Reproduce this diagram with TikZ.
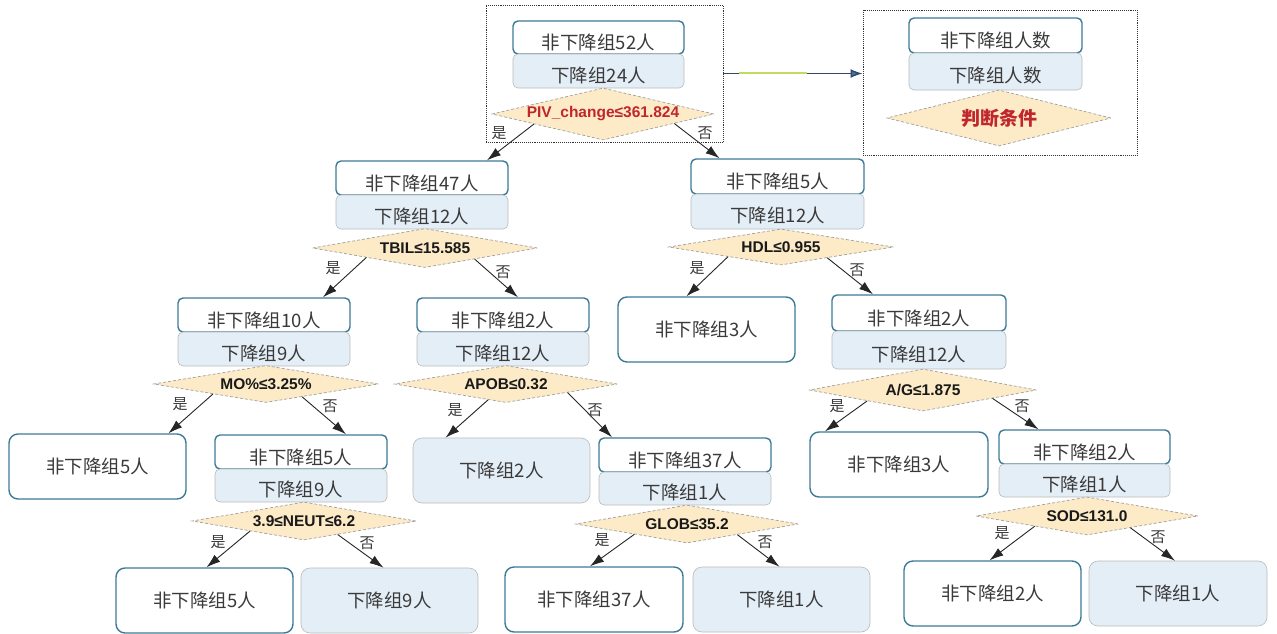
\documentclass[tikz,border=0pt]{standalone}
\usepackage{fontspec}
\setmainfont{Noto Sans CJK SC}
\newfontfamily\lat{Liberation Sans}
\usetikzlibrary{shapes.geometric,arrows.meta,calc}
\definecolor{bordc}{HTML}{3D7A96}
\definecolor{bluef}{HTML}{E4EEF7}
\definecolor{diaf}{HTML}{FDEBC8}
\definecolor{txt}{HTML}{3A3A3A}
\definecolor{redt}{HTML}{C0262C}
\definecolor{arrnavy}{HTML}{2E4A66}
\definecolor{arrgreen}{HTML}{C2DA5E}
\definecolor{arrtip}{HTML}{4A6DB0}
\begin{document}
\begin{tikzpicture}[x=1pt,y=-1pt,
 every node/.style={font=\fontsize{18.5}{20}\selectfont, text=txt},
 wtop/.style={draw=bordc, line width=1.4pt, rounded corners=5pt, fill=white, minimum width=172pt, minimum height=34pt, inner sep=0pt, text height=26pt, text depth=2pt},
 bblue/.style={draw=gray!55, line width=0.6pt, rounded corners=5pt, fill=bluef, minimum width=172pt, minimum height=34pt, inner sep=0pt, text height=24pt, text depth=2pt},
 leafw/.style={draw=bordc, line width=1.4pt, rounded corners=9pt, fill=white, minimum width=177pt, minimum height=65pt, inner sep=0pt},
 leafb/.style={draw=gray!55, line width=0.6pt, rounded corners=9pt, fill=bluef, minimum width=177pt, minimum height=65pt, inner sep=0pt},
 cond/.style={diamond, draw=gray!75, dash pattern=on 3pt off 2pt, line width=0.7pt, fill=diaf, aspect=4.5, inner sep=0pt, font=\lat\bfseries\fontsize{15.5}{17}\selectfont, text=black!90},
 yn/.style={font=\fontsize{15}{17}\selectfont, text=txt, inner sep=0pt},
 arr/.style={draw=black!85, line width=0.9pt, -{Latex[length=14pt,width=9pt]}},
 dotbox/.style={draw=black!80, densely dotted, line width=0.9pt, inner sep=0pt}
]
\useasboundingbox (0,0) rectangle (1277,634);

% dotted frames
\node[dotbox, minimum width=237pt, minimum height=137pt] (rootbox) at (604.5,73.5) {};
\node[dotbox, minimum width=274pt, minimum height=145pt] (legbox) at (1000,82.5) {};

% legend arrow
\draw[draw=arrnavy, line width=1.4pt, -{Latex[length=12pt,width=9pt,fill=arrtip]}] (rootbox.east) -- (rootbox.east -| legbox.west);
\draw[draw=arrgreen, line width=2pt] ($(rootbox.east)+(16,0)$) -- ($(rootbox.east)+(84,0)$);

% legend
\node[wtop, minimum width=173pt, minimum height=35pt] (legw) at (995.5,35.5) {非下降组人数};
\node[bblue, minimum width=173pt, minimum height=37pt] (legb) at (995.5,71.5) {下降组人数};
\node[cond, minimum width=224pt, minimum height=56pt, font=\bfseries\fontsize{19}{21}\selectfont, text=redt] (legd) at (999,118) {判断条件};

% root
\node[wtop, minimum width=171pt, minimum height=33pt] (rw) at (598.5,37.5) {非下降组52人};
\node[bblue, minimum width=171pt, minimum height=34pt] (rb) at (598.5,71) {下降组24人};
\node[cond, minimum width=222pt, minimum height=52pt, text=redt] (dR) at (603,114) {PIV\_change≤361.824};

% level 1 left
\node[wtop] (aw) at (422,178) {非下降组47人};
\node[bblue] (ab) at (422,212) {下降组12人};
\node[cond, minimum width=225pt, minimum height=39pt] (dA) at (425,248) {TBIL≤15.585};

% level 1 right
\node[wtop, minimum width=173pt, minimum height=35pt] (bw) at (777.5,176.5) {非下降组5人};
\node[bblue, minimum width=173pt, minimum height=35pt] (bb) at (777.5,211.5) {下降组12人};
\node[cond, minimum width=225pt, minimum height=36pt] (dB) at (781,247) {HDL≤0.955};

% level 2
\node[wtop] (cw) at (264,315) {非下降组10人};
\node[bblue] (cb) at (264,349) {下降组9人};
\node[cond, minimum width=225pt, minimum height=37pt] (dC) at (266,384) {MO\%≤3.25\%};

\node[wtop] (ew) at (503,315) {非下降组2人};
\node[bblue] (eb) at (503,349) {下降组12人};
\node[cond, minimum width=223pt, minimum height=37pt] (dE) at (506,384) {APOB≤0.32};

\node[leafw] (lC) at (706.5,329.5) {非下降组3人};

\node[wtop, minimum width=174pt, minimum height=36pt] (gw) at (919,313) {非下降组2人};
\node[bblue, minimum width=174pt, minimum height=38pt] (gb) at (919,350) {下降组12人};
\node[cond, minimum width=227pt, minimum height=42pt] (dG) at (923,390) {A/G≤1.875};

% level 3
\node[leafw] (l5) at (97.5,466.5) {非下降组5人};

\node[wtop] (hw) at (301,452) {非下降组5人};
\node[bblue, minimum height=33pt] (hb) at (301,485.5) {下降组9人};
\node[cond, minimum width=224pt, minimum height=38pt] (dH) at (304,521) {3.9≤NEUT≤6.2};

\node[leafb] (l2) at (501.5,470.5) {下降组2人};

\node[wtop] (fw) at (685,455) {非下降组37人};
\node[bblue, minimum height=33pt] (fb) at (685,488.5) {下降组1人};
\node[cond, minimum width=223pt, minimum height=38pt] (dF) at (687,524) {GLOB≤35.2};

\node[leafw, minimum width=178pt] (l3) at (899,464.5) {非下降组3人};

\node[wtop, minimum width=171pt] (kw) at (1084.5,447) {非下降组2人};
\node[bblue, minimum width=171pt, minimum height=33pt] (kb) at (1084.5,480.5) {下降组1人};
\node[cond, minimum width=222pt, minimum height=38pt] (dK) at (1087,516) {SOD≤131.0};

% level 4
\node[leafw] (m1) at (204.5,600.5) {非下降组5人};
\node[leafb] (m2) at (389.5,600.5) {下降组9人};
\node[leafw, minimum width=178pt] (m3) at (594,599.5) {非下降组37人};
\node[leafb] (m4) at (781.5,599.5) {下降组1人};
\node[leafw] (m5) at (992.5,593.5) {非下降组2人};
\node[leafb, minimum width=178pt] (m6) at (1178,593.5) {下降组1人};

% arrows
\draw[arr] ($(dR.west)!0.38!(dR.south)$) -- ($(aw.north)+(65,0)$);
\draw[arr] ($(dR.east)!0.36!(dR.south)$) -- ($(bw.north)+(-58,0)$);
\draw[arr] ($(dA.west)!0.48!(dA.south)$) -- ($(cw.north)+(59,0)$);
\draw[arr] ($(dA.east)!0.56!(dA.south)$) -- ($(ew.north)+(15,0)$);
\draw[arr] ($(dB.west)!0.53!(dB.south)$) -- ($(lC.north)+(-20,0)$);
\draw[arr] ($(dB.east)!0.59!(dB.south)$) -- ($(gw.north)+(-46,0)$);
\draw[arr] ($(dC.west)!0.53!(dC.south)$) -- ($(l5.north)+(71,0)$);
\draw[arr] ($(dC.east)!0.68!(dC.south)$) -- ($(hw.north)+(45,0)$);
\draw[arr] ($(dE.west)!0.84!(dE.south)$) -- ($(l2.north)+(-56,0)$);
\draw[arr] ($(dE.east)!0.45!(dE.south)$) -- ($(fw.north)+(-73,0)$);
\draw[arr] ($(dG.west)!0.51!(dG.south)$) -- ($(l3.north)+(-74,0)$);
\draw[arr] ($(dG.east)!0.39!(dG.south)$) -- ($(kw.north)+(-46,0)$);
\draw[arr] ($(dH.west)!0.52!(dH.south)$) -- ($(m1.north)+(2,0)$);
\draw[arr] ($(dH.east)!0.70!(dH.south)$) -- ($(m2.north)+(-6,0)$);
\draw[arr] ($(dF.west)!0.53!(dF.south)$) -- ($(m3.north)+(-4,0)$);
\draw[arr] ($(dF.east)!0.55!(dF.south)$) -- ($(m4.north)+(-2,0)$);
\draw[arr] ($(dK.west)!0.53!(dK.south)$) -- ($(m5.north)+(-3,0)$);
\draw[arr] ($(dK.east)!0.61!(dK.south)$) -- ($(m6.north)+(-3,0)$);

% yes/no labels
\node[yn] (yR) at (499,133) {是};
\node[yn] (nR) at (705,133) {否};
\node[yn] (yA) at (333,268) {是};
\node[yn] (nA) at (503,272) {否};
\node[yn] (yB) at (697,268) {是};
\node[yn] (nB) at (857,270) {否};
\node[yn] (yC) at (180,404) {是};
\node[yn] (nC) at (330,406) {否};
\node[yn] (yE) at (455,410) {是};
\node[yn] (nE) at (595,410) {否};
\node[yn] (yG) at (837,406) {是};
\node[yn] (nG) at (1022,406) {否};
\node[yn] (yH) at (218,542) {是};
\node[yn] (nH) at (367,543) {否};
\node[yn] (yF) at (602,540) {是};
\node[yn] (nF) at (765,542) {否};
\node[yn] (yK) at (1002,533) {是};
\node[yn] (nK) at (1158,537) {否};
\end{tikzpicture}
\end{document}
